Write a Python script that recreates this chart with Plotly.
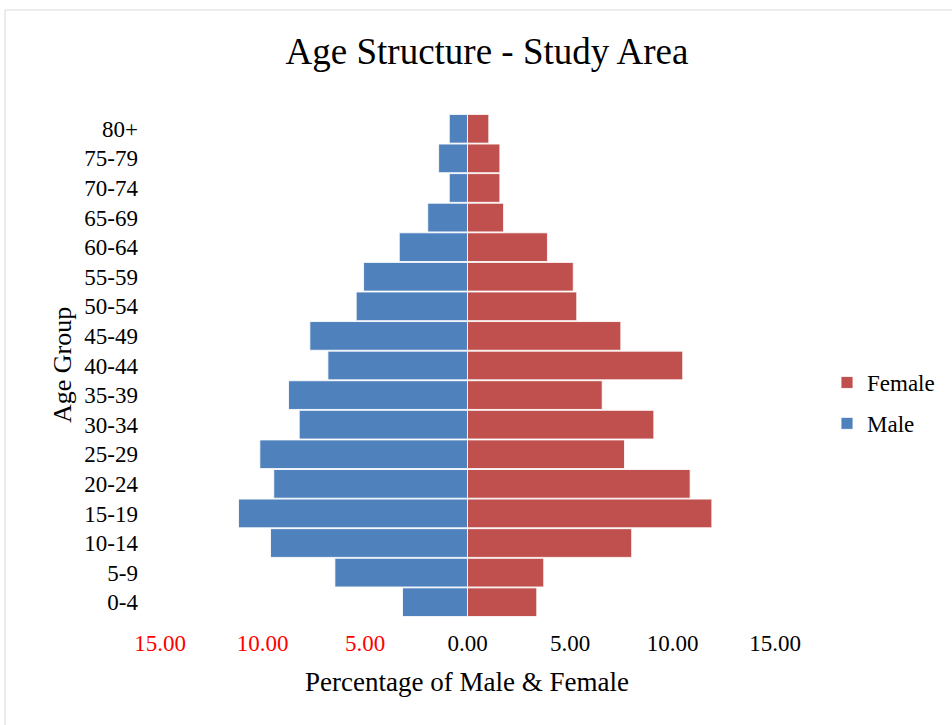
import plotly.graph_objects as go

age_groups = ["0-4", "5-9", "10-14", "15-19", "20-24", "25-29", "30-34", "35-39",
              "40-44", "45-49", "50-54", "55-59", "60-64", "65-69", "70-74", "75-79", "80+"]
male_pct = [3.17, 6.47, 9.61, 11.17, 9.45, 10.13, 8.21, 8.73,
            6.81, 7.69, 5.43, 5.07, 3.33, 1.94, 0.89, 1.41, 0.89]
female_pct = [3.38, 3.72, 8.01, 11.92, 10.86, 7.66, 9.09, 6.57,
              10.50, 7.48, 5.33, 5.16, 3.90, 1.76, 1.58, 1.58, 1.04]
tick_vals = [-15, -10, -5, 0, 5, 10, 15]
tick_text = ["<span style='color:#ff0000'>15.00</span>",
             "<span style='color:#ff0000'>10.00</span>",
             "<span style='color:#ff0000'>5.00</span>",
             "0.00", "5.00", "10.00", "15.00"]

FONT = "Liberation Serif"
BLUE = "#4F81BD"
RED = "#C0504D"

fig = go.Figure()
fig.add_trace(go.Bar(
    y=age_groups, x=[-v for v in male_pct], name="Male", orientation="h",
    marker=dict(color=BLUE, line=dict(color="rgba(255,255,255,0.85)", width=1)),
    legendgroup="m", legendrank=2,
))
fig.add_trace(go.Bar(
    y=age_groups, x=female_pct, name="Female", orientation="h",
    marker=dict(color=RED, line=dict(color="rgba(255,255,255,0.85)", width=1)),
    legendgroup="f", legendrank=1,
))

fig.update_layout(
    width=952, height=725,
    margin=dict(l=160, r=177, t=114, b=108, autoexpand=False),
    paper_bgcolor="white", plot_bgcolor="white",
    barmode="overlay", bargap=0.03,
    font=dict(family=FONT, color="black", size=23),
    title=dict(text="Age Structure - Study Area", font=dict(size=37, family=FONT, color="black"),
               x=487 / 952, xref="container", xanchor="center",
               y=1 - 51 / 725, yref="container", yanchor="middle"),
    showlegend=True,
    legend=dict(x=(827 - 160) / 615, y=(617 - 403) / 503, xanchor="left", yanchor="middle",
                traceorder="grouped", tracegroupgap=8,
                font=dict(size=23, family=FONT), bgcolor="rgba(0,0,0,0)"),
    xaxis=dict(range=[-15, 15], tickvals=tick_vals, ticktext=tick_text,
               showgrid=False, zeroline=False, showline=False, ticks="",
               ticklabelstandoff=10, tickfont=dict(size=23, family=FONT)),
    yaxis=dict(type="category", showgrid=False, zeroline=False, showline=False, ticks="",
               ticklabelstandoff=21, tickfont=dict(size=23, family=FONT)),
    annotations=[
        dict(text="Percentage of Male & Female", xref="paper", yref="paper",
             x=(466.5 - 160) / 615, y=(617 - 682) / 503, xanchor="center", yanchor="middle",
             showarrow=False, font=dict(size=27, family=FONT)),
        dict(text="Age Group", xref="paper", yref="paper", textangle=-90,
             x=(62 - 160) / 615, y=(617 - 365) / 503, xanchor="center", yanchor="middle",
             showarrow=False, font=dict(size=26, family=FONT)),
    ],
    shapes=[dict(type="rect", xref="paper", yref="paper",
                 x0=(5 - 160) / 615, x1=(990 - 160) / 615,
                 y0=(617 - 760) / 503, y1=(617 - 10) / 503,
                 line=dict(color="#d9d9d9", width=1), fillcolor="rgba(0,0,0,0)", layer="below")],
)

fig.write_html("out.html")
